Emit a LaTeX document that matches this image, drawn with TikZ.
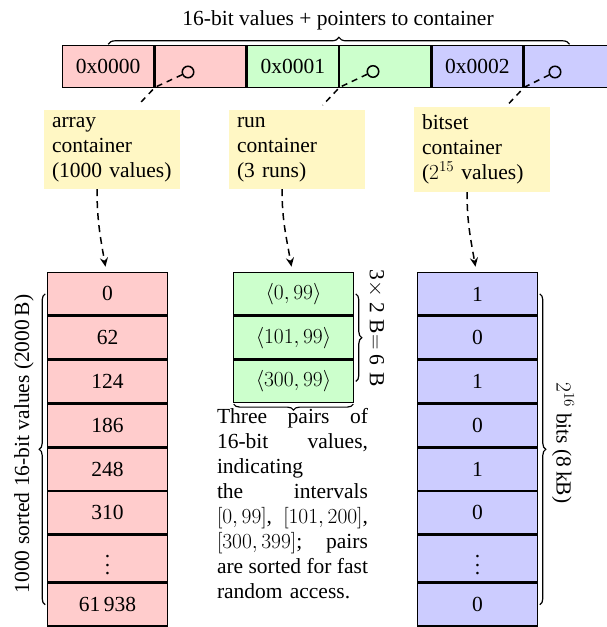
\RequirePackage{fix-cm}
\documentclass[tikz,border=0pt]{standalone}
\usepackage[no-math]{fontspec}
\setmainfont{Liberation Serif}
\usetikzlibrary{arrows.meta,decorations.pathreplacing,calc}
\definecolor{cpink}{RGB}{255,204,204}
\definecolor{cgreen}{RGB}{204,255,204}
\definecolor{cblue}{RGB}{204,204,255}
\definecolor{cyel}{RGB}{255,247,196}
\newcommand\myvdots{\vbox{\baselineskip8.6pt\lineskiplimit0pt\kern12.9pt\hbox{.}\hbox{.}\hbox{.}}}
\begin{document}
\begin{tikzpicture}[x=1pt,y=1pt,
  every node/.style={font=\fontsize{21.5}{25}\selectfont},
  keycell/.style={draw, line width=1.4pt, minimum width=90.9pt, minimum height=41.6pt, inner sep=0pt, outer sep=0pt},
  colcell/.style={draw, line width=1.4pt, minimum width=119.6pt, minimum height=42.4pt, inner sep=0pt, outer sep=0pt},
  dotcell/.style={colcell, minimum height=46.6pt},
  ptrc/.style={draw, circle, line width=1.5pt, minimum size=11.5pt, inner sep=0pt},
  ptrline/.style={line width=1.5pt, dash pattern=on 6pt off 5pt},
  lbl/.style={fill=cyel, text width=120pt, inner xsep=8pt, inner ysep=3pt, minimum height=79pt, align=left},
  darr/.style={line width=1.5pt, dash pattern=on 7pt off 5pt, -{Stealth[length=9pt,width=8pt,inset=3pt]}},
  brc/.style={decorate, decoration={brace, amplitude=6pt}, line width=1.2pt}
]
\useasboundingbox (0,0) rectangle (606,-627);

% title
\node[anchor=base] (t) at (338,-25) {16-bit values + pointers to container};

% top row
\node[keycell,fill=cpink]  (k0) at (108.15,-66.5) {0x0000};
\node[keycell,fill=cpink]  (p0) at (200.45,-66.5) {};
\node[keycell,fill=cgreen] (k1) at (292.75,-66.5) {0x0001};
\node[keycell,fill=cgreen] (p1) at (385.05,-66.5) {};
\node[keycell,fill=cblue]  (k2) at (477.35,-66.5) {0x0002};
\node[keycell,fill=cblue]  (p2) at (569.65,-66.5) {};

\draw[brc, decoration={amplitude=7pt}] ($(k0.north)+(0,1.4)$) -- ($(p2.north)+(0,1.4)$);

% pointer circles
\node[ptrc] (c0) at (188,-72) {};
\node[ptrc] (c1) at (373,-71.5) {};
\node[ptrc] (c2) at (555,-72) {};

% yellow labels
\node[lbl] (y0) at (112,-149.5) {array\\container\\(1000 values)};
\node[lbl] (y1) at (297,-149.5) {run\\container\\(3 runs)};
\node[lbl, minimum height=85pt] (y2) at (482,-149.5) {bitset\\container\\($2^{15}$ values)};

\coordinate (e0) at ($(p0.south west)+(-17,-18)$);
\coordinate (e1) at ($(p1.south west)+(-17,-18)$);
\coordinate (e2) at ($(p2.south west)+(-17,-18)$);
\draw[ptrline] (c0) -- (p0.south west) -- (e0);
\draw[ptrline] (c1) -- (p1.south west) -- (e1);
\draw[ptrline] (c2) -- (p2.south west) -- (e2);

% array container
\node[colcell,fill=cpink] (a0) at (107.5,-293.9) {0};
\node[colcell,fill=cpink] (a1) at (107.5,-337.7) {62};
\node[colcell,fill=cpink] (a2) at (107.5,-381.5) {124};
\node[colcell,fill=cpink] (a3) at (107.5,-425.3) {186};
\node[colcell,fill=cpink] (a4) at (107.5,-469.1) {248};
\node[colcell,fill=cpink] (a5) at (107.5,-512.9) {310};
\node[dotcell,fill=cpink] (a6) at (107.5,-558.8) {\myvdots};
\node[colcell,fill=cpink] (a7) at (107.5,-604.7) {61\,938};

% run container
\node[colcell,fill=cgreen] (g0) at (293.5,-293.9) {$\langle 0,99\rangle$};
\node[colcell,fill=cgreen] (g1) at (293.5,-337.7) {$\langle 101,99\rangle$};
\node[colcell,fill=cgreen] (g2) at (293.5,-381.5) {$\langle 300,99\rangle$};

% bitset container
\node[colcell,fill=cblue] (b0) at (477.5,-293.9) {1};
\node[colcell,fill=cblue] (b1) at (477.5,-337.7) {0};
\node[colcell,fill=cblue] (b2) at (477.5,-381.5) {1};
\node[colcell,fill=cblue] (b3) at (477.5,-425.3) {0};
\node[colcell,fill=cblue] (b4) at (477.5,-469.1) {1};
\node[colcell,fill=cblue] (b5) at (477.5,-512.9) {0};
\node[dotcell,fill=cblue] (b6) at (477.5,-558.8) {\myvdots};
\node[colcell,fill=cblue] (b7) at (477.5,-604.7) {0};

% arrows from labels to containers
\draw[darr] ($(y0.south)+(-15,0)$) to[out=-90,in=100] ($(a0.north)+(-2,6)$);
\draw[darr] ($(y1.south)+(-15,0)$) to[out=-90,in=100] ($(g0.north)+(-2,6)$);
\draw[darr] ($(y2.south)+(-15,0)$) to[out=-90,in=100] ($(b0.north)+(-2,6)$);

% braces and labels
\draw[brc] ($(a7.west)+(-2.5,0)$) -- ($(a0.west)+(-2.5,0)$);
\node[rotate=90] (la) at (24,-444) {1000 sorted 16-bit values (2000\,B)};

\draw[brc] ($(g0.east)+(2.5,0)$) -- ($(g2.east)+(2.5,0)$);
\node[rotate=-90] (lg) at (376,-328) {3$\times$ 2\hspace{0.3em}B$=$ 6\hspace{0.3em}B};

\draw[brc] ($(g2.south east)+(0,-1.4)$) -- ($(g2.south west)+(0,-1.4)$);
\node[anchor=north, text width=151pt, align=left, inner sep=0pt] (desc) at (292.5,-408.5)
  {Three\hfill pairs\hfill of\\
   16-bit\hfill values,\\
   indicating\\
   the\hfill intervals\\
   $[0,99]$,\hfill$[101,200]$,\\
   $[300,399]$;\hfill pairs\\
   are\hfill sorted\hfill for\hfill fast\\
   random access.};

\draw[brc] ($(b0.east)+(2.5,0)$) -- ($(b7.east)+(2.5,0)$);
\node[rotate=-90] (lb) at (563,-443) {$2^{16}$ bits (8\,kB)};
\end{tikzpicture}
\end{document}
